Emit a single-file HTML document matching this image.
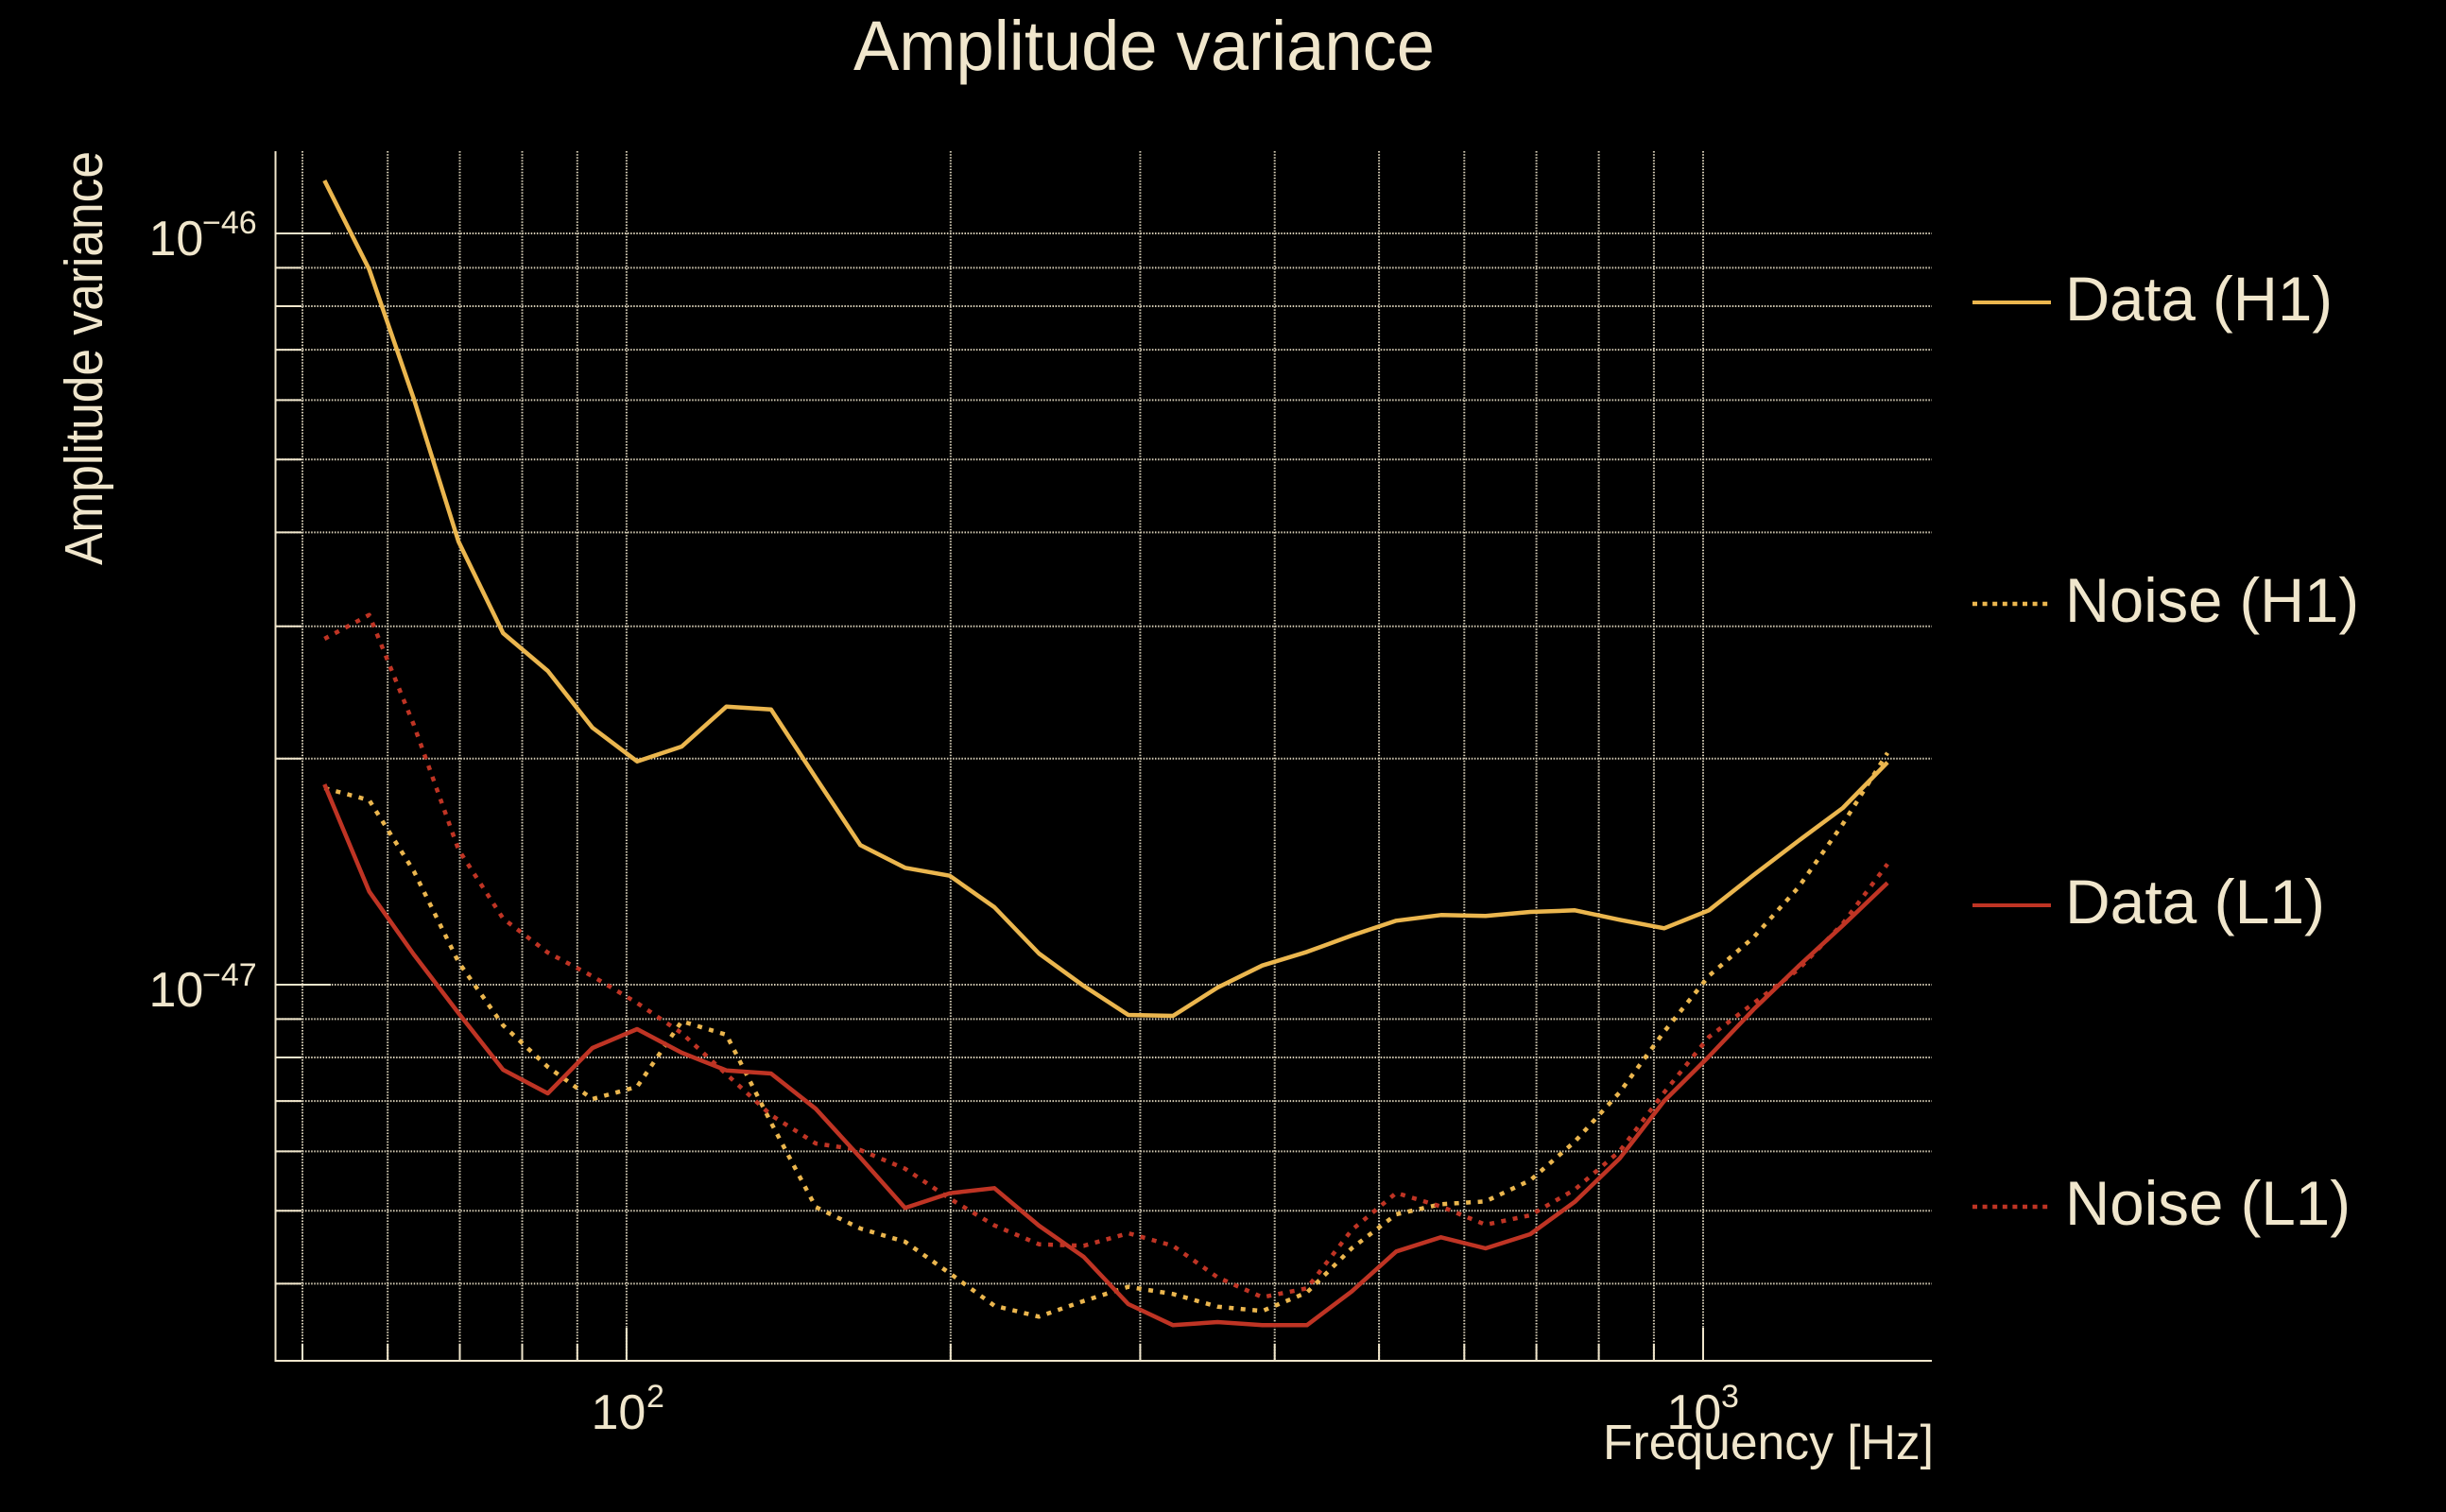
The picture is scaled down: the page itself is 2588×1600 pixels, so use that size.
<!DOCTYPE html>
<html>
<head>
<meta charset="utf-8">
<style>
  html, body { margin: 0; padding: 0; background: #000; }
  body { width: 2588px; height: 1600px; overflow: hidden; }
  svg { display: block; }
  text { font-family: "Liberation Sans", "DejaVu Sans", sans-serif; fill: #F0E6CC; }
</style>
</head>
<body>
<svg width="2588" height="1600" viewBox="0 0 2588 1600" xmlns="http://www.w3.org/2000/svg">
  <rect x="0" y="0" width="2588" height="1600" fill="#000"/>

  <!-- Title -->
  <text x="903" y="74" font-size="74" textLength="615" lengthAdjust="spacingAndGlyphs">Amplitude variance</text>

  <!-- Y label -->
  <text transform="translate(108,160) rotate(-90)" x="0" y="0" font-size="57" text-anchor="end" textLength="438" lengthAdjust="spacingAndGlyphs">Amplitude variance</text>

  <!-- Grid -->
  <g stroke="#F0E6CC" stroke-width="2" stroke-dasharray="1.5 1.6" fill="none" opacity="0.9">
    <!-- horizontal -->
    <line x1="292" y1="247" x2="2044" y2="247"/>
    <line x1="292" y1="283.4" x2="2044" y2="283.4"/>
    <line x1="292" y1="324" x2="2044" y2="324"/>
    <line x1="292" y1="370.1" x2="2044" y2="370.1"/>
    <line x1="292" y1="423.4" x2="2044" y2="423.4"/>
    <line x1="292" y1="486.3" x2="2044" y2="486.3"/>
    <line x1="292" y1="563.4" x2="2044" y2="563.4"/>
    <line x1="292" y1="662.7" x2="2044" y2="662.7"/>
    <line x1="292" y1="802.7" x2="2044" y2="802.7"/>
    <line x1="292" y1="1042" x2="2044" y2="1042"/>
    <line x1="292" y1="1078.4" x2="2044" y2="1078.4"/>
    <line x1="292" y1="1119" x2="2044" y2="1119"/>
    <line x1="292" y1="1165.1" x2="2044" y2="1165.1"/>
    <line x1="292" y1="1218.4" x2="2044" y2="1218.4"/>
    <line x1="292" y1="1281.3" x2="2044" y2="1281.3"/>
    <line x1="292" y1="1358.4" x2="2044" y2="1358.4"/>
    <!-- vertical -->
    <line x1="320" y1="160" x2="320" y2="1440"/>
    <line x1="410.2" y1="160" x2="410.2" y2="1440"/>
    <line x1="486.5" y1="160" x2="486.5" y2="1440"/>
    <line x1="552.5" y1="160" x2="552.5" y2="1440"/>
    <line x1="610.8" y1="160" x2="610.8" y2="1440"/>
    <line x1="662.9" y1="160" x2="662.9" y2="1440"/>
    <line x1="1005.8" y1="160" x2="1005.8" y2="1440"/>
    <line x1="1206.4" y1="160" x2="1206.4" y2="1440"/>
    <line x1="1348.7" y1="160" x2="1348.7" y2="1440"/>
    <line x1="1459.1" y1="160" x2="1459.1" y2="1440"/>
    <line x1="1549.3" y1="160" x2="1549.3" y2="1440"/>
    <line x1="1625.6" y1="160" x2="1625.6" y2="1440"/>
    <line x1="1691.6" y1="160" x2="1691.6" y2="1440"/>
    <line x1="1749.9" y1="160" x2="1749.9" y2="1440"/>
    <line x1="1802" y1="160" x2="1802" y2="1440"/>
  </g>

  <!-- Axes -->
  <g stroke="#F0E6CC" stroke-width="2" fill="none">
    <line x1="291.5" y1="160" x2="291.5" y2="1441"/>
    <line x1="290.5" y1="1440" x2="2044" y2="1440"/>
    <!-- y ticks -->
    <line x1="291.5" y1="247" x2="350" y2="247"/>
    <line x1="291.5" y1="1042" x2="350" y2="1042"/>
    <line x1="291.5" y1="283.4" x2="319" y2="283.4"/>
    <line x1="291.5" y1="324" x2="319" y2="324"/>
    <line x1="291.5" y1="370.1" x2="319" y2="370.1"/>
    <line x1="291.5" y1="423.4" x2="319" y2="423.4"/>
    <line x1="291.5" y1="486.3" x2="319" y2="486.3"/>
    <line x1="291.5" y1="563.4" x2="319" y2="563.4"/>
    <line x1="291.5" y1="662.7" x2="319" y2="662.7"/>
    <line x1="291.5" y1="802.7" x2="319" y2="802.7"/>
    <line x1="291.5" y1="1078.4" x2="319" y2="1078.4"/>
    <line x1="291.5" y1="1119" x2="319" y2="1119"/>
    <line x1="291.5" y1="1165.1" x2="319" y2="1165.1"/>
    <line x1="291.5" y1="1218.4" x2="319" y2="1218.4"/>
    <line x1="291.5" y1="1281.3" x2="319" y2="1281.3"/>
    <line x1="291.5" y1="1358.4" x2="319" y2="1358.4"/>
    <!-- x ticks -->
    <line x1="662.9" y1="1440" x2="662.9" y2="1405"/>
    <line x1="1802" y1="1440" x2="1802" y2="1405"/>
    <line x1="320" y1="1440" x2="320" y2="1422"/>
    <line x1="410.2" y1="1440" x2="410.2" y2="1422"/>
    <line x1="486.5" y1="1440" x2="486.5" y2="1422"/>
    <line x1="552.5" y1="1440" x2="552.5" y2="1422"/>
    <line x1="610.8" y1="1440" x2="610.8" y2="1422"/>
    <line x1="1005.8" y1="1440" x2="1005.8" y2="1422"/>
    <line x1="1206.4" y1="1440" x2="1206.4" y2="1422"/>
    <line x1="1348.7" y1="1440" x2="1348.7" y2="1422"/>
    <line x1="1459.1" y1="1440" x2="1459.1" y2="1422"/>
    <line x1="1549.3" y1="1440" x2="1549.3" y2="1422"/>
    <line x1="1625.6" y1="1440" x2="1625.6" y2="1422"/>
    <line x1="1691.6" y1="1440" x2="1691.6" y2="1422"/>
    <line x1="1749.9" y1="1440" x2="1749.9" y2="1422"/>
  </g>

  <!-- Y tick labels -->
  <text x="157.5" y="270" font-size="52">10</text>
  <text x="214" y="247" font-size="34">−46</text>
  <text x="157.5" y="1065" font-size="52">10</text>
  <text x="214" y="1043" font-size="34">−47</text>

  <!-- X tick labels -->
  <text x="625.5" y="1512" font-size="52">10</text>
  <text x="684" y="1489" font-size="34">2</text>
  <text x="1763.5" y="1512" font-size="52">10</text>
  <text x="1821" y="1489" font-size="34">3</text>

  <!-- X label -->
  <text x="2046" y="1544" font-size="52" text-anchor="end" textLength="350" lengthAdjust="spacingAndGlyphs">Frequency [Hz]</text>

  <!-- Series -->
  <g fill="none" stroke-linejoin="round">
    <!-- Data (H1) -->
    <polyline stroke="#EBB64E" stroke-width="4.5" points="343.3,191 390.6,285 437.8,422 485.1,573 532.3,670 579.6,710 626.8,770 674.1,805.7 721.3,790 768.6,747.7 815.8,750.7 863.1,823 910.3,894.3 957.6,918.3 1004.8,926.7 1052.1,960 1099.3,1009 1146.6,1043.3 1193.8,1074 1241.1,1075 1288.3,1045 1335.6,1021.7 1382.8,1007.3 1430.1,990 1477.3,974.3 1524.6,968.3 1571.8,969.3 1619.1,965 1666.3,963.3 1713.6,973.3 1760.8,982.3 1808.1,963.3 1855.3,926 1902.6,890 1949.8,855 1997.1,806.7"/>
    <!-- Noise (H1) -->
    <polyline stroke="#EBB64E" stroke-width="4.5" stroke-dasharray="5 7.5" points="343.3,834 390.6,846.7 437.8,921.7 485.1,1018 532.3,1085 579.6,1129 626.8,1163 674.1,1150 721.3,1080.7 768.6,1095 815.8,1188 863.1,1277.3 910.3,1300 957.6,1314 1004.8,1347.3 1052.1,1381.7 1099.3,1393.3 1146.6,1376.7 1193.8,1361.7 1241.1,1369.3 1288.3,1382.7 1335.6,1387.3 1382.8,1367.7 1430.1,1321 1477.3,1285 1524.6,1274.3 1571.8,1271.3 1619.1,1249 1666.3,1208 1713.6,1156 1760.8,1091.7 1808.1,1032.7 1855.3,992 1902.6,939.3 1949.8,872 1997.1,796.7"/>
    <!-- Data (L1) -->
    <polyline stroke="#BF3424" stroke-width="4.5" points="343.3,830 390.6,943.3 437.8,1010 485.1,1072 532.3,1132 579.6,1157 626.8,1109 674.1,1089 721.3,1114 768.6,1132.7 815.8,1136 863.1,1173.3 910.3,1225 957.6,1278.3 1004.8,1262.7 1052.1,1257.3 1099.3,1297 1146.6,1330 1193.8,1380 1241.1,1402.3 1288.3,1399 1335.6,1402.3 1382.8,1402.3 1430.1,1366.7 1477.3,1324.3 1524.6,1309.3 1571.8,1321 1619.1,1306 1666.3,1271.7 1713.6,1226 1760.8,1165 1808.1,1118 1855.3,1068.3 1902.6,1022.7 1949.8,979.3 1997.1,934.3"/>
    <!-- Noise (L1) -->
    <polyline stroke="#BF3424" stroke-width="4.5" stroke-dasharray="5 7.5" points="343.3,676 390.6,650.7 437.8,767 485.1,899 532.3,972 579.6,1008 626.8,1033 674.1,1061.3 721.3,1093.3 768.6,1136.7 815.8,1180 863.1,1210 910.3,1217 957.6,1236.7 1004.8,1268.3 1052.1,1296.7 1099.3,1316.7 1146.6,1318.3 1193.8,1305 1241.1,1318.3 1288.3,1351.7 1335.6,1372.7 1382.8,1363.3 1430.1,1301.7 1477.3,1262.3 1524.6,1276.7 1571.8,1296 1619.1,1286 1666.3,1258.7 1713.6,1218.3 1760.8,1156 1808.1,1097.3 1855.3,1061.7 1902.6,1026 1949.8,977.3 1997.1,914.3"/>
  </g>

  <!-- Legend -->
  <g fill="none">
    <line x1="2087" y1="320" x2="2170" y2="320" stroke="#EBB64E" stroke-width="4"/>
    <line x1="2087" y1="639" x2="2170" y2="639" stroke="#EBB64E" stroke-width="4.5" stroke-dasharray="5 5.6"/>
    <line x1="2087" y1="958" x2="2170" y2="958" stroke="#BF3424" stroke-width="4"/>
    <line x1="2087" y1="1277" x2="2170" y2="1277" stroke="#BF3424" stroke-width="4.5" stroke-dasharray="5 5.6"/>
  </g>
  <text x="2185" y="339" font-size="66" textLength="283" lengthAdjust="spacingAndGlyphs">Data (H1)</text>
  <text x="2185" y="658" font-size="66" textLength="311" lengthAdjust="spacingAndGlyphs">Noise (H1)</text>
  <text x="2185" y="977" font-size="66" textLength="275" lengthAdjust="spacingAndGlyphs">Data (L1)</text>
  <text x="2185" y="1296" font-size="66" textLength="302" lengthAdjust="spacingAndGlyphs">Noise (L1)</text>
</svg>
</body>
</html>
